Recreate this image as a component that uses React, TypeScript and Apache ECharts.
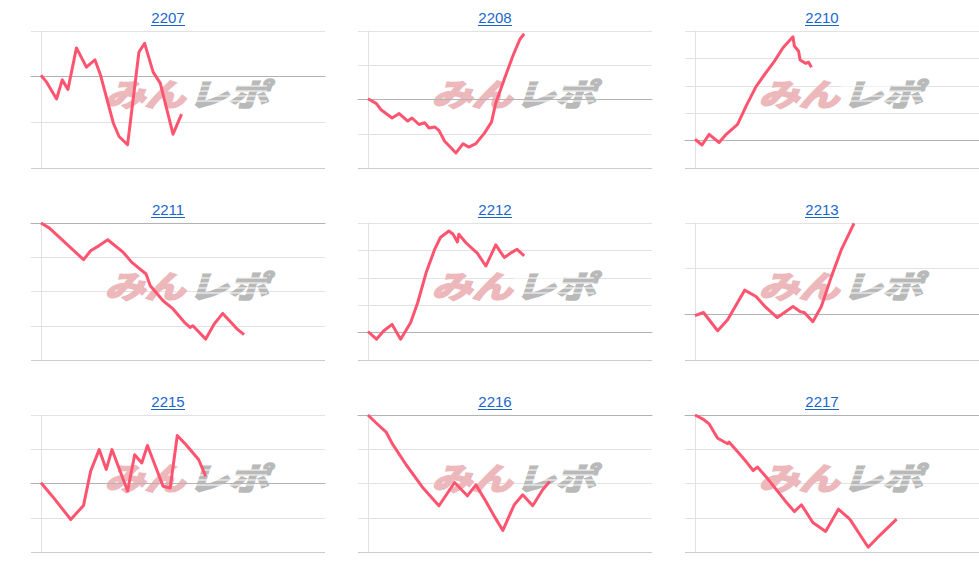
import React, { useEffect, useRef } from "react";
import * as echarts from "echarts";

const titles = ["2207", "2208", "2210", "2211", "2212", "2213", "2215", "2216", "2217"];

const days2207 = [0, 4, 11, 15, 19, 25, 32, 38, 42, 51, 55, 61, 69, 73, 79, 84, 93, 99];
const vals2207 = [0.3, -1.2, -4.9, -0.7, -2.8, 6.3, 2.1, 3.7, 0.3, -10.2, -13.1, -14.9, 5.4, 7.3, 1.0, -1.4, -12.6, -8.2];

const days2208 = [0, 6, 9, 17, 22, 28, 31, 36, 40, 43, 47, 50, 54, 62, 67, 71, 76, 82, 87, 90, 96, 102, 107, 110];
const vals2208 = [0.2, -1.2, -2.9, -5.4, -4.1, -6.3, -5.4, -7.3, -6.8, -8.3, -8.0, -9.0, -12.2, -15.6, -12.9, -13.9, -12.9, -9.8, -6.6, -1.0, 5.9, 12.7, 17.6, 19.2];

const days2210 = [0, 5, 10, 17, 22, 30, 36, 43, 50, 56, 62, 69, 70, 73, 74, 78, 80, 82];
const vals2210 = [0.5, -1.6, 2.3, -0.7, 2.3, 5.9, 12.6, 19.7, 24.8, 29.0, 33.9, 37.9, 34.5, 32.6, 29.4, 28.2, 28.6, 26.8];

const days2211 = [0, 6, 18, 30, 35, 41, 47, 58, 64, 74, 77, 86, 93, 101, 105, 107, 116, 122, 128, 138, 143];
const vals2211 = [0, -1.5, -6.1, -10.7, -8.1, -6.6, -4.9, -8.6, -11.5, -14.9, -18.3, -22.7, -25.1, -29.0, -30.5, -30.0, -33.9, -29.5, -26.4, -30.9, -32.6];

const days2212 = [0, 6, 11, 17, 23, 30, 35, 41, 47, 51, 57, 60, 63, 64, 69, 74, 77, 83, 90, 96, 101, 105, 110];
const vals2212 = [0.4, -2.4, 0.6, 3.0, -2.4, 3.6, 10.9, 21.9, 30.4, 34.7, 37.1, 35.9, 33.1, 35.9, 32.8, 30.4, 29.0, 24.3, 32.0, 27.4, 29.2, 30.4, 28.0];

const days2213 = [0, 6, 16, 23, 35, 43, 49, 58, 69, 74, 77, 83, 89, 96, 103, 112];
const vals2213 = [-0.3, 0.4, -3.6, -1.2, 5.3, 3.9, 1.8, -0.7, 1.7, 0.6, 0.4, -1.6, 1.7, 8.2, 14.1, 19.9];

const days2215 = [0, 8, 21, 30, 35, 41, 46, 50, 61, 66, 71, 75, 86, 91, 96, 102, 111, 116];
const vals2215 = [0.2, -3.7, -10.5, -6.4, 3.6, 9.9, 4.1, 9.9, -2.2, 8.4, 6.0, 11.1, -0.8, -1.3, 14.0, 11.4, 7.0, 2.1];

const days2216 = [0, 6, 13, 17, 27, 39, 50, 61, 70, 76, 83, 89, 95, 103, 109, 116, 123, 128];
const vals2216 = [0, -2.4, -5.1, -8.3, -14.6, -21.4, -26.5, -19.7, -23.6, -20.4, -25.2, -29.6, -33.7, -26.2, -23.3, -26.5, -21.8, -19.4];

const days2217 = [0, 6, 10, 16, 23, 24, 31, 36, 41, 44, 50, 63, 70, 75, 83, 92, 101, 109, 122, 130, 142];
const vals2217 = [0, -1.3, -2.6, -6.8, -8.4, -7.9, -11.2, -13.6, -16.2, -15.2, -18.0, -24.8, -28.2, -26.2, -31.4, -34.0, -27.5, -30.4, -38.6, -35.2, -30.4];

const allDays = [days2207, days2208, days2210, days2211, days2212, days2213, days2215, days2216, days2217];
const allVals = [vals2207, vals2208, vals2210, vals2211, vals2212, vals2213, vals2215, vals2216, vals2217];

const yMins = [-20, -20, -10, -40, -10, -10, -20, -40, -40];
const yMaxs = [10, 20, 40, 0, 40, 20, 20, 0, 0];
const yStep = 10;
const xMin = -7;
const xMax = 200;

const LINE_COLOR = "#ff5470";
const TITLE_COLOR = "#1a66cc";

export default function App() {
  const ref = useRef<HTMLDivElement>(null);

  useEffect(() => {
    if (!ref.current) return;
    const chart = echarts.init(ref.current, undefined, { renderer: "svg" });

    const grids: any[] = [];
    const xAxes: any[] = [];
    const yAxes: any[] = [];
    const series: any[] = [];
    const graphics: any[] = [];

    titles.forEach((t, i) => {
      const col = i % 3;
      const row = Math.floor(i / 3);
      const left = 31 + 327 * col;
      const top = 31 + 192 * row;
      grids.push({ left, top, width: 294, height: 137, containLabel: false });

      const nLines = Math.round((yMaxs[i] - yMins[i]) / yStep) + 1;
      const splitColors = Array.from({ length: nLines }, (_, k) => (k === 0 ? "#cccccc" : "#e2e2e2"));

      xAxes.push({
        type: "value",
        gridIndex: i,
        min: xMin,
        max: xMax,
        z: 1,
        axisLine: { show: true, onZero: true, lineStyle: { color: "#b3b3b3", width: 1 } },
        axisTick: { show: false },
        axisLabel: { show: false },
        splitLine: { show: false },
      });
      yAxes.push({
        type: "value",
        gridIndex: i,
        min: yMins[i],
        max: yMaxs[i],
        interval: yStep,
        z: 0,
        axisLine: { show: true, onZero: true, lineStyle: { color: "#e2e2e2", width: 1 } },
        axisTick: { show: false },
        axisLabel: { show: false },
        splitLine: { show: true, lineStyle: { color: splitColors, width: 1 } },
      });
      series.push({
        type: "line",
        xAxisIndex: i,
        yAxisIndex: i,
        data: allDays[i].map((d, k) => [d, allVals[i][k]]),
        showSymbol: false,
        symbol: "none",
        z: 3,
        lineStyle: { color: LINE_COLOR, width: 3, join: "round" },
        itemStyle: { color: LINE_COLOR },
      });

      const cx = 168 + 327 * col;
      graphics.push({
        type: "text",
        x: cx,
        y: top - 13.5,
        z: 10,
        style: {
          text: t,
          fill: TITLE_COLOR,
          fontSize: 15,
          fontFamily: "Arial, 'Liberation Sans', sans-serif",
          textAlign: "center",
          textVerticalAlign: "middle",
        },
      });
      graphics.push({
        type: "line",
        z: 10,
        shape: { x1: cx - 17, y1: top - 5.5, x2: cx + 17, y2: top - 5.5 },
        style: { stroke: TITLE_COLOR, lineWidth: 1 },
      });

      const wx = 185 + 327 * col;
      const wy = top + 61;
      graphics.push({
        type: "text",
        x: wx,
        y: wy,
        z: 1,
        scaleX: 1.3,
        style: {
          text: "みん",
          fill: "#ecb8bb",
          stroke: "#ecb8bb",
          lineWidth: 2,
          fontSize: 31,
          fontWeight: "bold",
          fontStyle: "italic",
          fontFamily: "'Noto Sans CJK JP', sans-serif",
          textAlign: "right",
          textVerticalAlign: "middle",
        },
      });
      graphics.push({
        type: "text",
        x: wx + 3,
        y: wy,
        z: 1,
        scaleX: 1.3,
        style: {
          text: "レポ",
          fill: "#b9b9b9",
          stroke: "#b9b9b9",
          lineWidth: 2,
          fontSize: 31,
          fontWeight: "bold",
          fontStyle: "italic",
          fontFamily: "'Noto Sans CJK JP', sans-serif",
          textAlign: "left",
          textVerticalAlign: "middle",
        },
      });
      [-6, -1, 4, 9].forEach((dy) => {
        graphics.push({
          type: "line",
          z: 1,
          shape: { x1: wx + 2, y1: wy + dy, x2: wx + 82, y2: wy + dy },
          style: { stroke: "#ffffff", lineWidth: 1 },
        });
      });
    });

    chart.setOption({
      animation: false,
      backgroundColor: "#ffffff",
      grid: grids,
      xAxis: xAxes,
      yAxis: yAxes,
      series,
      graphic: { elements: graphics },
    });

    return () => chart.dispose();
  }, []);

  return (
    <div
      ref={ref}
      style={{ position: "absolute", left: 0, top: 0, width: 979, height: 574 }}
    />
  );
}
